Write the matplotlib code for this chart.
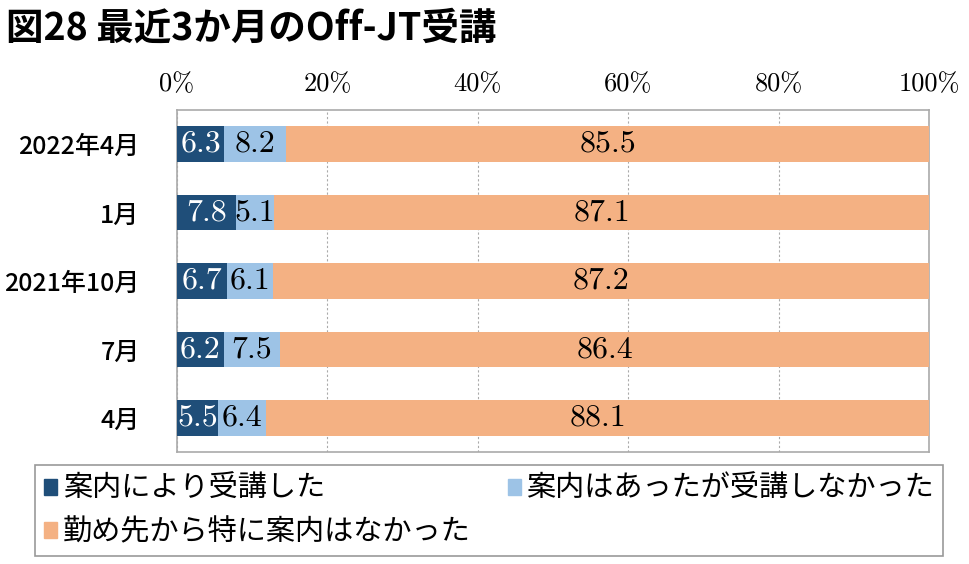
import numpy as np
import matplotlib.pyplot as plt
from matplotlib.patches import Patch

plt.rcParams['font.family'] = ['Noto Sans CJK JP', 'DejaVu Sans']

# data
periods = ["2022年4月", "1月", "2021年10月", "7月", "4月"]
guided_took = [6.3, 7.8, 6.7, 6.2, 5.5]
guided_not_took = [8.2, 5.1, 6.1, 7.5, 6.4]
no_guidance = [85.5, 87.1, 87.2, 86.4, 88.1]
series_names = ["案内により受講した", "案内はあったが受講しなかった", "勤め先から特に案内はなかった"]
colors = ["#1f4e79", "#9dc3e6", "#f4b183"]
text_colors = ["white", "black", "black"]
xticks = [0, 20, 40, 60, 80, 100]

fig = plt.figure(figsize=(9.69, 5.64), dpi=100)
ax = fig.add_axes([177 / 969, 1 - 452 / 564, (929 - 177) / 969, (452 - 110) / 564])

y = np.arange(len(periods))
left = np.zeros(len(periods))
for vals, col, tc in zip([guided_took, guided_not_took, no_guidance], colors, text_colors):
    vals = np.array(vals)
    bars = ax.barh(y, vals, left=left, height=0.52, color=col, zorder=3)
    for b, v in zip(bars, vals):
        ax.text(b.get_x() + b.get_width() / 2, b.get_y() + b.get_height() / 2, f"{v:.1f}",
                ha="center", va="center", color=tc, fontsize=23, family="cmr10", zorder=4)
    left += vals

ax.set_xlim(0, 100)
ax.set_ylim(len(periods) - 0.5, -0.5)
ax.set_yticks(y)
ax.set_yticklabels(periods, fontsize=18, fontweight="medium")
ax.set_xticks(xticks)
ax.set_xticklabels([f"{t}%" for t in xticks], family="cmr10", fontsize=19)
ax.xaxis.tick_top()
ax.tick_params(axis="x", length=0, pad=10)
ax.tick_params(axis="y", length=0, pad=27)
ax.grid(axis="x", color="#aaaaaa", linestyle=(0, (2, 2)), linewidth=0.8, zorder=0)
for s in ax.spines.values():
    s.set_color("#aaaaaa")
    s.set_linewidth(1.2)

fig.text(6 / 969, 1 - 28 / 564, "図28 最近3か月のOff-JT受講", fontsize=27, fontweight="bold", va="center")

handles = [Patch(color=c) for c in colors]
order = [0, 2, 1]
leg = fig.legend([handles[i] for i in order], [series_names[i] for i in order],
                 ncol=2, mode="expand", loc="lower left", borderaxespad=0,
                 bbox_to_anchor=(35 / 969, 1 - 556 / 564, (943 - 35) / 969, (556 - 463) / 564),
                 fontsize=21, handlelength=0.45, handleheight=0.45, handletextpad=0.2,
                 borderpad=0.3, labelspacing=0.45, fancybox=False, edgecolor="#999999", framealpha=1)
leg.get_frame().set_linewidth(1.2)

fig.savefig("out.png", dpi=100)
